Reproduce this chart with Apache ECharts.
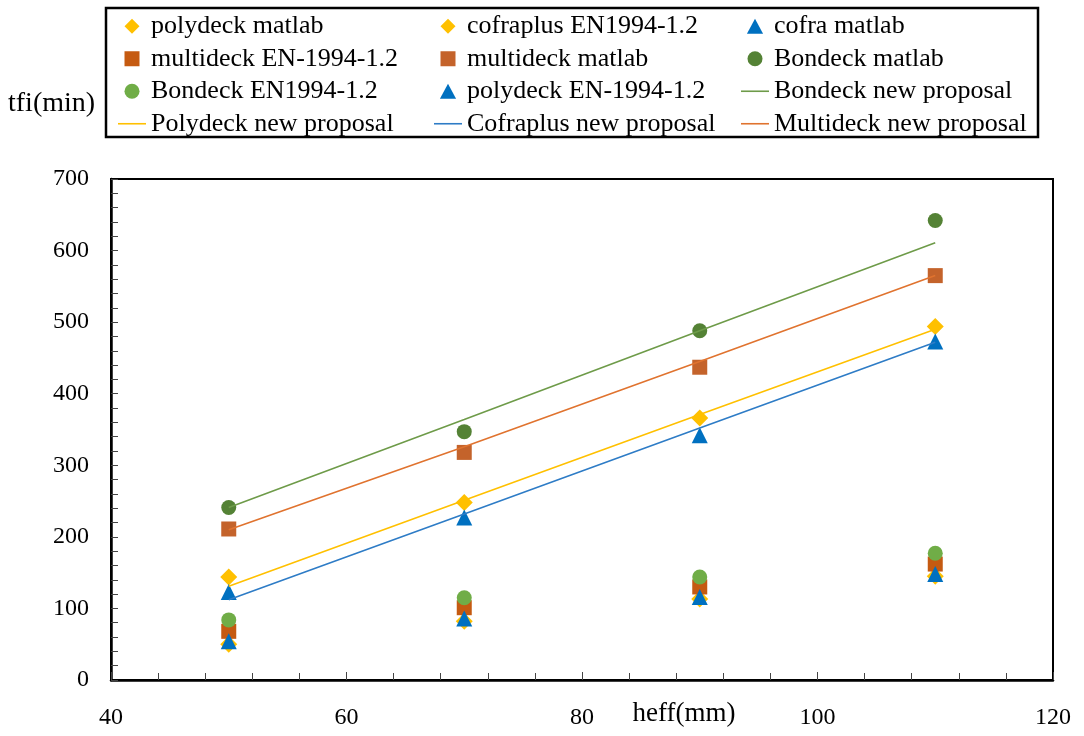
<!DOCTYPE html>
<html>
<head>
<meta charset="utf-8">
<script src="https://cdn.jsdelivr.net/npm/echarts@6/dist/echarts.min.js"></script>
<style>html,body{margin:0;padding:0;background:#fff}#c{width:1084px;height:736px}</style>
</head>
<body>
<div id="c"></div>
<script>
const xValues = [50, 70, 90, 110];
const polydeckMatlab   = [144, 248, 366, 494];
const cofraplusEN      = [50, 82, 113, 145];
const cofraMatlab      = [123, 227, 342, 473];
const multideckEN      = [68, 101, 130, 162];
const multideckMatlab  = [211, 318, 437, 565];
const bondeckMatlab    = [241, 347, 488, 642];
const bondeckEN        = [84, 115, 144, 177];
const polydeckEN       = [54, 86, 116, 148];
const bondeckNew       = [241, 364, 488, 611];
const polydeckNew      = [131, 251, 371, 490];
const cofraplusNew     = [112, 232, 352, 472];
const multideckNew     = [210, 326, 445, 565];

const xTicks = { min: 40, max: 120, interval: 20 };
const yTicks = { min: 0, max: 700, interval: 100 };

const FONT = 'Liberation Serif';
const pairs = ys => xValues.map((x, i) => [x, ys[i]]);

const ICONS = {
  diamond: 'path://M7,0L14,7L7,14L0,7Z',
  rect: 'path://M0,0H13V13H0Z',
  triangle: 'path://M7,0L14,13L0,13Z',
  circle: 'path://M7,0A7,7 0 1,1 7,14A7,7 0 1,1 7,0Z',
  line: 'path://M0,0H28V1.6H0Z'
};
const iconOf = {};

function scatter(name, data, symbol, size, color) {
  iconOf[name] = ICONS[symbol];
  return { name, type: 'scatter', data: pairs(data), symbol, symbolSize: size,
    itemStyle: { color, opacity: 1 }, emphasis: { disabled: true } };
}
function line(name, data, color) {
  iconOf[name] = ICONS.line;
  return { name, type: 'line', data: pairs(data), symbol: 'none', showSymbol: false,
    lineStyle: { color, width: 1.6 }, itemStyle: { color }, emphasis: { disabled: true } };
}

const series = [
  scatter('polydeck matlab', polydeckMatlab, 'diamond', 17, '#FFC000'),
  scatter('cofraplus EN1994-1.2', cofraplusEN, 'diamond', 17, '#FFC000'),
  scatter('cofra matlab', cofraMatlab, 'triangle', 16, '#0070C0'),
  scatter('multideck EN-1994-1.2', multideckEN, 'rect', 15, '#C55A11'),
  scatter('multideck matlab', multideckMatlab, 'rect', 15, '#C4632B'),
  scatter('Bondeck matlab', bondeckMatlab, 'circle', 15, '#548235'),
  scatter('Bondeck EN1994-1.2', bondeckEN, 'circle', 15, '#70AD47'),
  scatter('polydeck EN-1994-1.2', polydeckEN, 'triangle', 16, '#0070C0'),
  line('Bondeck new proposal', bondeckNew, '#6E9B49'),
  line('Polydeck new proposal', polydeckNew, '#FFC000'),
  line('Cofraplus new proposal', cofraplusNew, '#2E7CC6'),
  line('Multideck new proposal', multideckNew, '#E0732F')
];

const col1 = ['polydeck matlab', 'multideck EN-1994-1.2', 'Bondeck EN1994-1.2', 'Polydeck new proposal'];
const col2 = ['cofraplus EN1994-1.2', 'multideck matlab', 'polydeck EN-1994-1.2', 'Cofraplus new proposal'];
const col3 = ['cofra matlab', 'Bondeck matlab', 'Bondeck new proposal', 'Multideck new proposal'];

function legend(left, names) {
  return { left, top: 10, orient: 'vertical', itemGap: 0, itemWidth: 28, itemHeight: 15,
    padding: 0, selectedMode: false, symbolKeepAspect: true,
    textStyle: { fontFamily: FONT, fontSize: 26, lineHeight: 32.5, color: '#000' },
    data: names.map(n => ({ name: n, icon: iconOf[n] })) };
}

const chart = echarts.init(document.getElementById('c'));
chart.setOption({
  animation: false,
  backgroundColor: '#fff',
  grid: { left: 111, top: 179, width: 942, height: 501, show: true, borderColor: '#000', borderWidth: 2, backgroundColor: 'transparent' },
  legend: [legend(118, col1), legend(434, col2), legend(741, col3)],
  xAxis: {
    type: 'value', min: xTicks.min, max: xTicks.max, interval: xTicks.interval,
    axisLine: { show: true, lineStyle: { color: '#000', width: 2.5 } },
    axisTick: { show: true, inside: true, length: 8, lineStyle: { color: '#444', width: 1 } },
    minorTick: { show: true, splitNumber: 5, length: 7, lineStyle: { color: '#444', width: 1 } },
    splitLine: { show: false },
    axisLabel: { margin: 26, fontFamily: FONT, fontSize: 24, color: '#000' }
  },
  yAxis: {
    type: 'value', min: yTicks.min, max: yTicks.max, interval: yTicks.interval,
    axisLine: { show: true, lineStyle: { color: '#000', width: 2.5 } },
    axisTick: { show: true, inside: true, length: 7, lineStyle: { color: '#444', width: 1 } },
    minorTick: { show: true, splitNumber: 5, length: 7, lineStyle: { color: '#444', width: 1 } },
    splitLine: { show: false },
    axisLabel: { margin: 22, fontFamily: FONT, fontSize: 24, color: '#000' }
  },
  graphic: [
    { type: 'rect', shape: { x: 106, y: 8, width: 932, height: 129 },
      style: { fill: 'none', stroke: '#000', lineWidth: 2.5 }, silent: true },
    { type: 'text', x: 8, y: 104, silent: true,
      style: { text: 'tfi(min)', fontFamily: FONT, fontSize: 28, fill: '#000', verticalAlign: 'middle', align: 'left' } },
    { type: 'text', x: 684, y: 714, silent: true,
      style: { text: 'heff(mm)', fontFamily: FONT, fontSize: 27, fill: '#000', verticalAlign: 'middle', align: 'center' } }
  ],
  series
});
</script>
</body>
</html>
